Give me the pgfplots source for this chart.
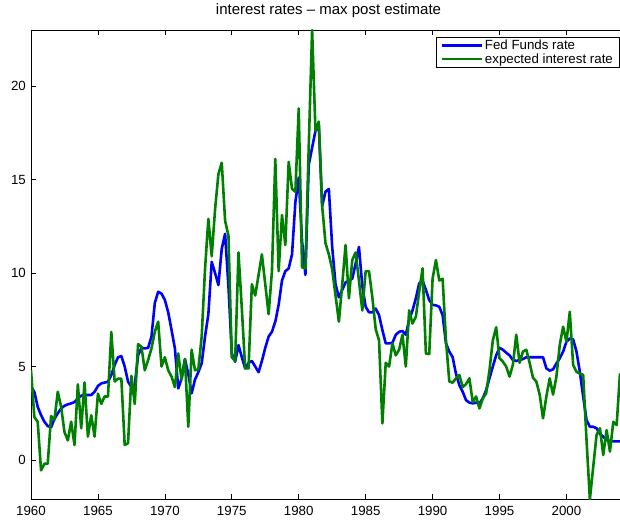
\documentclass[border=0pt]{standalone}
\usepackage{pgfplots}
\usepackage{pgfplotstable}
\pgfplotsset{compat=1.18}
\usepackage{fontspec}
\setmainfont{Liberation Sans}
\definecolor{mblue}{RGB}{0,0,255}
\definecolor{mgreen}{RGB}{0,128,0}
\pgfplotstableread{
year fed exp
1960.00 3.90 4.80
1960.25 3.65 2.30
1960.50 2.85 2.05
1960.75 2.40 -0.55
1961.00 2.05 -0.20
1961.25 1.82 -0.20
1961.50 1.75 2.35
1961.75 2.20 2.15
1962.00 2.50 3.65
1962.25 2.76 2.85
1962.50 2.90 1.50
1962.75 2.98 1.05
1963.00 3.03 2.05
1963.25 3.10 0.80
1963.50 3.30 4.05
1963.75 3.44 1.70
1964.00 3.48 4.15
1964.25 3.48 1.25
1964.50 3.48 2.40
1964.75 3.65 1.25
1965.00 3.96 3.55
1965.25 4.10 3.00
1965.50 4.14 3.40
1965.75 4.19 3.40
1966.00 4.55 6.85
1966.25 5.08 4.20
1966.50 5.50 4.35
1966.75 5.56 4.35
1967.00 5.00 0.80
1967.25 4.19 0.90
1967.50 3.90 4.50
1967.75 4.00 3.00
1968.00 5.60 6.20
1968.25 6.00 6.06
1968.50 5.97 4.80
1968.75 6.00 5.35
1969.00 6.60 5.97
1969.25 8.40 6.86
1969.50 9.00 7.40
1969.75 8.90 5.00
1970.00 8.56 5.50
1970.25 7.90 4.80
1970.50 6.95 4.46
1970.75 5.97 3.90
1971.00 3.83 5.70
1971.25 4.37 4.30
1971.50 5.40 5.40
1971.75 4.60 1.78
1972.00 3.57 5.90
1972.25 4.30 4.80
1972.50 4.70 4.85
1972.75 5.17 6.60
1973.00 6.60 10.20
1973.25 7.80 12.90
1973.50 10.60 10.90
1973.75 10.00 13.40
1974.00 9.36 15.30
1974.25 11.30 15.90
1974.50 12.10 12.80
1974.75 9.30 12.00
1975.00 5.70 5.50
1975.25 5.26 5.30
1975.50 6.15 11.10
1975.75 5.50 8.10
1976.00 4.90 4.90
1976.25 5.20 4.90
1976.50 5.30 9.40
1976.75 5.00 8.80
1977.00 4.70 9.90
1977.25 5.30 11.00
1977.50 6.00 9.40
1977.75 6.60 7.80
1978.00 6.86 10.10
1978.25 7.40 16.10
1978.50 8.30 10.10
1978.75 9.60 13.10
1979.00 10.10 11.50
1979.25 10.25 15.95
1979.50 11.00 14.50
1979.75 13.80 14.35
1980.00 15.10 18.80
1980.25 11.70 10.30
1980.50 9.90 10.25
1980.75 15.80 16.80
1981.00 16.70 23.00
1981.25 17.60 17.60
1981.50 17.90 18.10
1981.75 13.60 13.60
1982.00 14.35 11.60
1982.25 14.50 11.00
1982.50 11.40 10.20
1982.75 9.40 8.80
1983.00 8.70 7.40
1983.25 9.10 9.40
1983.50 9.50 11.50
1983.75 9.60 8.65
1984.00 9.70 10.70
1984.25 10.50 11.10
1984.50 11.40 9.60
1984.75 9.30 8.00
1985.00 8.20 10.10
1985.25 7.90 10.10
1985.50 7.90 8.70
1985.75 8.10 7.00
1986.00 7.75 6.40
1986.25 6.95 1.96
1986.50 6.24 5.20
1986.75 6.24 5.00
1987.00 6.27 6.24
1987.25 6.70 5.60
1987.50 6.86 5.90
1987.75 6.90 6.70
1988.00 6.70 5.00
1988.25 7.50 8.00
1988.50 8.00 7.30
1988.75 8.65 7.66
1989.00 9.45 9.00
1989.25 9.60 10.25
1989.50 9.10 5.70
1989.75 8.55 5.67
1990.00 8.30 9.70
1990.25 8.27 10.70
1990.50 8.20 9.60
1990.75 7.75 9.70
1991.00 6.24 6.40
1991.25 5.80 4.20
1991.50 5.50 4.14
1991.75 4.60 4.37
1992.00 4.00 4.55
1992.25 3.65 3.90
1992.50 3.20 4.06
1992.75 3.07 4.37
1993.00 3.03 3.10
1993.25 3.07 3.40
1993.50 3.03 2.76
1993.75 3.30 3.30
1994.00 3.74 3.56
1994.25 4.37 4.80
1994.50 5.00 6.40
1994.75 5.60 7.10
1995.00 6.00 5.44
1995.25 5.90 5.26
1995.50 5.74 5.00
1995.75 5.60 4.46
1996.00 5.35 5.10
1996.25 5.30 6.70
1996.50 5.35 5.20
1996.75 5.40 5.80
1997.00 5.50 5.90
1997.25 5.50 5.20
1997.50 5.50 4.40
1997.75 5.50 4.20
1998.00 5.50 3.50
1998.25 5.50 2.23
1998.50 4.90 3.40
1998.75 4.78 4.37
1999.00 4.85 3.50
1999.25 5.17 4.46
1999.50 5.44 6.15
1999.75 5.80 7.13
2000.00 6.33 6.33
2000.25 6.50 7.93
2000.50 6.45 5.08
2000.75 5.80 4.72
2001.00 4.72 4.63
2001.25 3.39 4.55
2001.50 2.14 1.07
2001.75 1.78 -2.11
2002.00 1.78 -0.36
2002.25 1.70 1.34
2002.50 1.39 1.70
2002.75 1.25 0.27
2003.00 1.07 1.60
2003.25 1.03 0.45
2003.50 1.00 2.05
2003.75 1.00 1.87
2004.00 1.00 4.63
}\rates
\begin{document}
\begin{tikzpicture}[x=1bp,y=1bp]
\useasboundingbox (0,0) rectangle (620,523);
\begin{axis}[
  scale only axis,
  at={(31bp,23.5bp)}, anchor=south west,
  width=595bp, height=469.5bp,
  xmin=1960, xmax=2004.45,
  ymin=-2.11, ymax=23.0,
  xtick={1960,1965,...,2000},
  ytick={0,5,...,20},
  tick align=inside,
  major tick length=5bp,
  tick style={black, line width=0.6bp},
  axis line style={black, line width=0.8bp},
  /pgf/number format/.cd, 1000 sep={}, assume math mode=true,
  /pgfplots/.cd,
  tick label style={font=\fontsize{13.3bp}{16bp}\selectfont},
  xticklabel style={anchor=north, inner sep=0pt, yshift=-7bp},
  yticklabel style={anchor=east, inner sep=0pt, xshift=-5bp},
  title={interest rates -- max post estimate},
  title style={font=\fontsize{15bp}{18bp}\selectfont, anchor=base, at={(0.5,1)}, yshift=9.3bp, inner sep=0pt},
  legend style={at={(0.9885,0.985)}, anchor=north east, draw=black, line width=0.6bp,
    font=\fontsize{13.3bp}{15bp}\selectfont, inner xsep=4.5bp, inner ysep=1bp,
    row sep=-0.5bp, nodes={inner sep=1.5bp, anchor=west}},
  legend cell align=left,
  legend image code/.code={\draw[#1, line width=2.6bp] (0bp,0bp) -- (40bp,0bp);},
  every axis plot/.append style={line width=2.6bp, line join=round},
]
\addplot[mblue, mark=none] table[x=year, y=fed] {\rates};
\addlegendentry{Fed Funds rate}
\addplot[mgreen, mark=none] table[x=year, y=exp] {\rates};
\addlegendentry{expected interest rate}
\end{axis}
\end{tikzpicture}
\end{document}
